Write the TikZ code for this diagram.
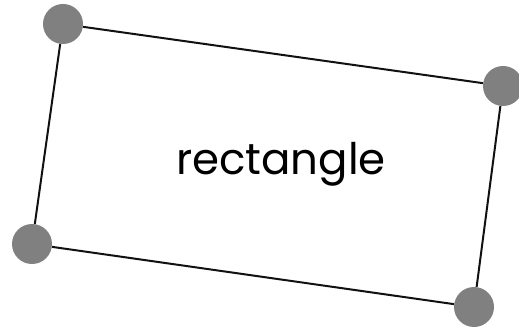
\documentclass[tikz,border=0pt]{standalone}
\usepackage{fontspec}
\setmainfont{Poppins}
\usepackage{tikz}
\usetikzlibrary{positioning}
\usepackage{xcolor}
\definecolor{dotgray}{HTML}{808080}
\definecolor{edgeblack}{HTML}{111111}

\begin{document}
\begin{tikzpicture}[x=1pt, y=-1pt,
      corner/.style={circle, fill=dotgray, minimum size=40pt, inner sep=0pt},
      side/.style={draw=edgeblack, line width=2pt},
      label/.style={font=\fontsize{43.5}{52}\selectfont, text=black, inner sep=0pt}
    ]
      \useasboundingbox (0,0) rectangle (519,331);
      % corners
      \node[corner] (tl) at (63,24) {};
      \node[corner] (tr) at (503,86) {};
      \node[corner] (br) at (474,307) {};
      \node[corner] (bl) at (32,244) {};
      % sides
      \draw[side] (tl) -- (tr);
      \draw[side] (tr) -- (br);
      \draw[side] (br) -- (bl);
      \draw[side] (bl) -- (tl);
      \node[label] (name) at (281,164) {rectangle};
    \end{tikzpicture}
\end{document}
